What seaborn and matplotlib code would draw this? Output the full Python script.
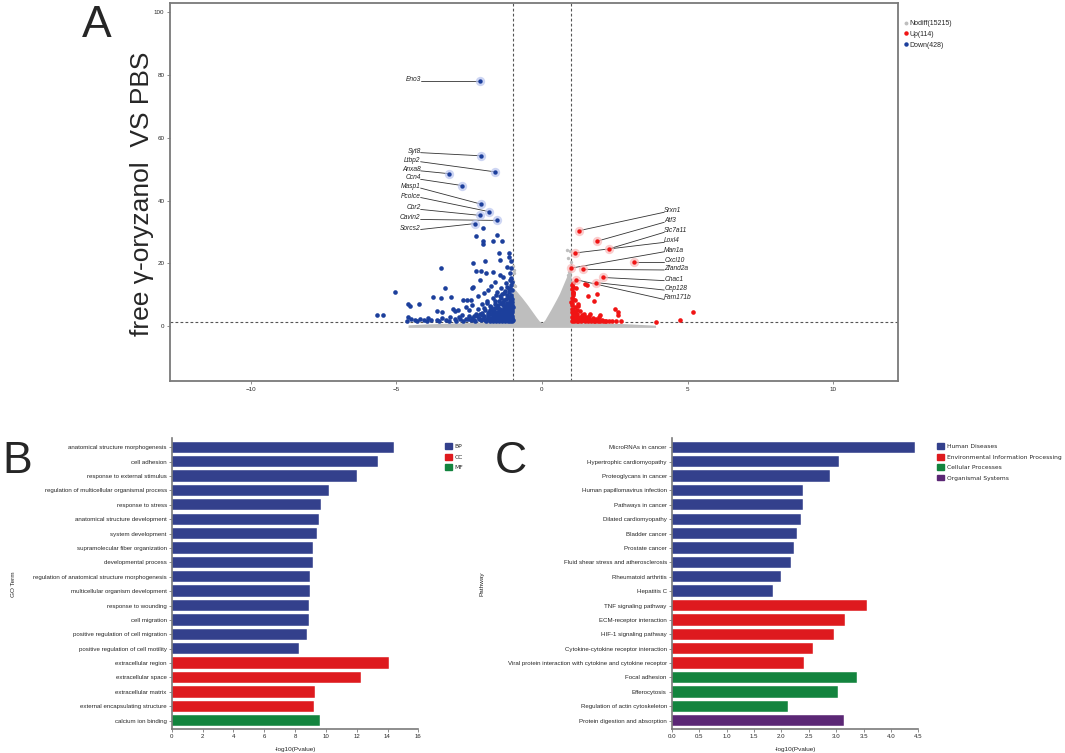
import matplotlib
matplotlib.use("Agg")
import pandas as pd
import matplotlib.pyplot as plt
import seaborn as sns
from matplotlib.patches import Patch
from matplotlib.lines import Line2D

# ---------------- panel A : volcano ----------------
# significant down-regulated genes (blue)
down_x = [-5.68, -5.47, -5.05, -4.60, -4.53, -4.23, -3.75, -3.47, -3.12, -3.48, -3.33, -3.05, -3.62, -3.45, -3.00,
          -2.02, -2.27, -1.56, -1.67, -1.36, -2.02, -2.04, -1.49, -1.15, -1.12, -2.38, -1.95, -1.44, -1.07, -2.27,
          -2.11, -1.93, -1.67, -1.44, -1.33, -1.10, -2.13, -2.41, -2.36, -1.20, -1.05, -1.25, -1.60,
          -2.70, -2.56, -2.45, -2.60, -2.20, -2.00, -1.85, -1.75, -1.55, -1.40, -1.30, -1.15, -1.08, -1.90, -1.70,
          -1.45, -1.20, -1.05, -2.40, -2.05, -1.80, -1.60, -1.35, -1.12, -2.90, -2.50, -2.20, -1.95, -1.70, -1.50,
          -1.25, -1.05,
          -4.60, -4.50, -4.35, -4.20, -4.05, -3.90, -3.80, -3.60, -3.45, -3.30, -3.15, -3.00, -2.85, -2.75, -2.60,
          -2.50, -2.35, -2.25, -2.15, -2.05, -1.95, -1.85, -1.75, -1.65, -1.55, -1.45, -1.35, -1.25, -1.15, -1.08,
          -1.02, -1.12, -1.30, -1.50, -1.70,
          -1.02, -1.04, -1.03, -1.05, -1.02, -1.06, -1.03, -1.04, -1.02, -1.05, -1.10, -1.12, -1.10, -1.13, -1.11,
          -1.14, -1.10, -1.12, -1.18, -1.20, -1.17, -1.21, -1.19, -1.22, -1.27, -1.28, -1.30, -1.26, -1.31, -1.29,
          -1.36, -1.38, -1.35, -1.40, -1.37, -1.42, -1.46, -1.48, -1.50, -1.47, -1.52, -1.57, -1.60, -1.58, -1.62,
          -1.63, -1.68, -1.72, -1.70, -1.76, -1.80, -1.84, -1.82, -1.88, -1.92, -1.98, -2.00, -2.10, -2.12, -2.30,
          -2.33, -2.45, -2.70, -2.95, -3.20, -3.55, -3.95, -4.30, -4.65]
down_y = [3.6, 3.4, 10.9, 6.9, 6.5, 6.9, 9.2, 8.9, 9.2, 18.4, 12.3, 5.6, 4.7, 4.4, 4.8,
          31.2, 28.8, 29.2, 27.2, 27.2, 27.0, 26.2, 23.4, 23.4, 22.1, 20.0, 20.8, 21.0, 20.7, 17.6,
          17.6, 17.0, 17.4, 16.2, 15.8, 16.8, 14.6, 12.0, 12.5, 19.0, 18.5, 13.8, 14.0,
          8.2, 8.4, 8.4, 6.0, 9.5, 10.5, 11.5, 12.8, 11.0, 12.0, 10.5, 11.8, 13.0, 8.0, 9.0,
          9.5, 9.8, 10.0, 6.8, 7.0, 6.5, 7.2, 7.8, 7.5, 5.0, 5.2, 5.5, 5.0, 5.3, 5.8,
          6.0, 6.3,
          2.8, 2.2, 2.0, 2.4, 1.9, 2.6, 2.0, 1.8, 2.6, 2.1, 3.0, 2.2, 2.8, 3.6, 2.3,
          3.2, 2.0, 3.8, 2.6, 4.2, 2.0, 3.4, 2.5, 4.0, 1.9, 3.0, 2.2, 3.6, 1.8, 2.8,
          4.5, 5.0, 4.6, 4.3, 3.2,
          1.6, 2.3, 3.1, 3.9, 5.2, 5.9, 6.8, 7.7, 8.6, 9.4, 1.5, 2.2, 3.3, 4.1, 5.4,
          6.6, 8.2, 10.8, 1.7, 2.6, 3.9, 4.8, 6.9, 8.8, 1.5, 2.9, 3.7, 5.3, 6.4, 8.3,
          1.6, 2.7, 4.0, 5.1, 6.9, 8.9, 1.5, 2.4, 3.5, 4.9, 6.6, 1.7, 2.8, 3.9, 5.7,
          8.1, 1.5, 2.2, 4.4, 6.1, 1.6, 2.9, 4.6, 7.3, 1.5, 3.1, 5.9, 1.8, 4.0, 1.6,
          3.3, 2.0, 1.7, 1.6, 1.5, 1.5, 1.6, 1.5, 1.6]
# the packed block just left of the |log2FC| = 1 line
down_dense_x = [-1.01, -1.03, -1.06, -1.08, -1.01, -1.07, -1.09, -1.04,
                -1.15, -1.16, -1.14, -1.17, -1.13, -1.16,
                -1.23, -1.24, -1.22, -1.25, -1.21,
                -1.33, -1.32, -1.34, -1.31, -1.33,
                -1.43, -1.41, -1.44, -1.42,
                -1.53, -1.55, -1.54, -1.56,
                -1.65, -1.66, -1.64,
                -1.78, -1.77, -1.79,
                -1.90, -1.87, -2.02, -2.05, -2.18, -2.22, -2.40, -2.55, -2.80,
                -1.09, -1.19, -1.28, -1.39, -1.49, -1.59, -1.02, -1.06, -1.11]
down_dense_y = [2.0, 2.7, 3.5, 4.4, 6.2, 7.2, 8.9, 11.6,
                1.9, 3.0, 4.6, 5.8, 7.0, 9.2,
                2.0, 3.3, 4.3, 5.7, 7.5,
                1.9, 3.2, 4.4, 5.8, 7.2,
                2.0, 3.8, 5.6, 7.4,
                1.8, 3.1, 4.4, 6.0,
                2.6, 3.5, 4.9,
                1.9, 3.8, 5.2,
                2.3, 4.1, 2.4, 3.6, 2.2, 3.2, 2.6, 2.4, 2.2,
                12.2, 12.6, 11.2, 10.3, 8.1, 9.8, 14.0, 15.2, 14.8]

# significant up-regulated genes (red)
up_x = [1.08, 1.08, 1.48, 1.54, 1.90, 1.57, 1.79, 1.05, 1.08, 1.05, 1.04, 1.12, 1.25, 2.51, 2.62,
        2.62, 5.18, 4.74, 3.93, 1.99, 1.95,
        1.02, 1.05, 1.03, 1.06, 1.04, 1.02, 1.10, 1.13, 1.15, 1.12, 1.20, 1.22, 1.25, 1.30, 1.35,
        1.38, 1.42, 1.48, 1.52, 1.58, 1.62, 1.70, 1.75, 1.82, 1.88, 2.00, 2.10, 2.20, 2.40, 2.55,
        2.70, 1.30, 1.45, 1.20, 1.65, 1.03, 1.07, 1.16,
        1.01, 1.03, 1.05, 1.02, 1.04, 1.09, 1.11, 1.08, 1.14, 1.17, 1.19, 1.23, 1.27, 1.33,
        1.40, 1.46, 1.55, 1.60, 1.68, 1.77, 1.85, 1.93, 2.05, 2.15, 2.30, 1.15, 1.22]
up_y = [13.6, 12.6, 13.3, 13.2, 10.1, 9.6, 8.1, 11.0, 9.8, 8.6, 6.7, 6.2, 6.4, 5.4, 4.6,
        3.6, 4.6, 1.9, 1.4, 3.6, 3.0,
        1.5, 2.2, 3.0, 3.8, 4.6, 5.4, 1.6, 2.6, 3.5, 4.4, 1.5, 2.0, 3.0, 2.4, 1.6,
        3.4, 2.1, 1.5, 2.8, 1.7, 2.2, 1.5, 2.6, 1.6, 2.0, 1.5, 1.6, 1.5, 1.5, 1.6,
        1.5, 4.8, 4.0, 5.2, 3.8, 7.4, 10.4, 12.0,
        7.8, 9.0, 10.4, 11.8, 13.0, 2.8, 4.0, 5.0, 1.9, 2.4, 3.8, 1.7, 2.2, 3.0,
        1.8, 2.5, 2.0, 3.1, 1.9, 1.7, 2.4, 1.6, 2.1, 1.7, 1.6, 8.4, 7.0]

# non-significant cloud: outline of the dense grey region (x, top)
nodiff_env_x = [-4.6, -4.0, -3.0, -2.0, -1.01, -1.0, -0.9, -0.8, -0.7, -0.6, -0.5, -0.4, -0.3, -0.2, -0.1,
                0.0, 0.1, 0.2, 0.3, 0.4, 0.5, 0.6, 0.7, 0.8, 0.9, 1.0, 1.01, 2.0, 3.0, 3.9]
nodiff_env_top = [0.4, 0.7, 1.0, 1.3, 1.3, 12.5, 11.4, 10.3, 9.2, 8.0, 6.8, 5.5, 4.2, 2.9, 1.7,
                  1.0, 2.0, 3.6, 5.2, 6.9, 8.6, 10.4, 12.6, 14.8, 17.0, 18.0, 1.3, 1.1, 0.7, 0.3]
# scattered grey points above the dense cloud
nodiff_x = [-0.98, -0.95, -0.99, -0.97, -0.92, -0.96, 0.96, 0.98, 0.97, 0.93, 0.99, 0.88, 0.85, 0.91]
nodiff_y = [14.5, 16.8, 19.3, 13.2, 12.8, 17.9, 18.0, 20.5, 23.8, 17.2, 19.2, 16.4, 24.2, 21.6]

down_genes = ["Eno3", "Syt8", "Ltbp2", "Anxa8", "Ccn4", "Masp1", "Pcolce", "Cbr2", "Cavin2", "Sorcs2"]
down_gene_x = [-2.13, -2.10, -1.63, -3.20, -2.74, -2.10, -1.82, -2.13, -1.55, -2.29]
down_gene_y = [78.2, 54.3, 49.2, 48.6, 44.8, 38.9, 36.5, 35.3, 33.7, 32.7]
down_label_y = [78.2, 55.3, 52.4, 49.5, 46.8, 44.0, 41.0, 37.2, 34.0, 30.8]

up_genes = ["Srxn1", "Atf3", "Slc7a11", "Loxl4", "Man1a", "Cxcl10", "Zfand2a", "Chac1", "Cep128", "Fam171b"]
up_gene_x = [1.26, 1.90, 2.29, 1.12, 1.01, 3.17, 1.40, 2.11, 1.84, 1.17]
up_gene_y = [30.4, 27.1, 24.6, 23.3, 18.5, 20.4, 18.1, 15.5, 13.9, 14.8]
up_label_y = [36.3, 33.1, 29.9, 26.7, 23.7, 20.4, 17.9, 14.5, 11.5, 8.5]

volcano_legend = ["Nodiff(15215)", "Up(114)", "Down(428)"]

# ---------------- panel B : GO ----------------
go_terms = ["anatomical structure morphogenesis", "cell adhesion", "response to external stimulus",
            "regulation of multicellular organismal process", "response to stress",
            "anatomical structure development", "system development", "supramolecular fiber organization",
            "developmental process", "regulation of anatomical structure morphogenesis",
            "multicellular organism development", "response to wounding", "cell migration",
            "positive regulation of cell migration", "positive regulation of cell motility",
            "extracellular region", "extracellular space", "extracellular matrix",
            "external encapsulating structure", "calcium ion binding"]
go_values = [14.44, 13.36, 12.04, 10.20, 9.70, 9.53, 9.42, 9.14, 9.14, 8.97,
             8.97, 8.92, 8.88, 8.79, 8.23, 14.11, 12.30, 9.29, 9.23, 9.62]
go_class = ["BP"] * 15 + ["CC"] * 4 + ["MF"]

# ---------------- panel C : KEGG ----------------
kegg_terms = ["MicroRNAs in cancer", "Hypertrophic cardiomyopathy", "Proteoglycans in cancer",
              "Human papillomavirus infection", "Pathways in cancer", "Dilated cardiomyopathy",
              "Bladder cancer", "Prostate cancer", "Fluid shear stress and atherosclerosis",
              "Rheumatoid arthritis", "Hepatitis C", "TNF signaling pathway", "ECM-receptor interaction",
              "HIF-1 signaling pathway", "Cytokine-cytokine receptor interaction",
              "Viral protein interaction with cytokine and cytokine receptor", "Focal adhesion",
              "Efferocytosis", "Regulation of actin cytoskeleton", "Protein digestion and absorption"]
kegg_values = [4.44, 3.05, 2.88, 2.40, 2.39, 2.36, 2.29, 2.23, 2.17, 2.00,
               1.85, 3.56, 3.16, 2.96, 2.58, 2.42, 3.38, 3.03, 2.12, 3.14]
kegg_class = (["Human Diseases"] * 11 + ["Environmental Information Processing"] * 5
              + ["Cellular Processes"] * 3 + ["Organismal Systems"])

BLUE, RED, GREEN, PURPLE = "#33408c", "#de1a1e", "#13843e", "#5b2775"
PT_BLUE, PT_RED, PT_GREY = "#1c3f9c", "#f01414", "#bebebe"
SPINE = "#7a7a7a"

sns.set_style("ticks")
plt.rcParams["font.family"] = ["Liberation Sans", "DejaVu Sans"]

fig = plt.figure(figsize=(10.65, 7.53), dpi=100)

# ---- A ----
axA = fig.add_axes([0.1596, 0.494, 0.6836, 0.502])
axA.fill_between(nodiff_env_x, -0.4, nodiff_env_top, color=PT_GREY, linewidth=0, zorder=1)
sns.scatterplot(x=nodiff_x, y=nodiff_y, color=PT_GREY, s=6, linewidth=0, ax=axA, zorder=2)
sns.scatterplot(x=down_x + down_dense_x, y=down_y + down_dense_y, color=PT_BLUE, s=11, linewidth=0,
                ax=axA, zorder=3)
sns.scatterplot(x=up_x, y=up_y, color=PT_RED, s=11, linewidth=0, ax=axA, zorder=3)

for gx, gy, ly, name in zip(down_gene_x, down_gene_y, down_label_y, down_genes):
    axA.plot([-4.17, gx], [ly, gy], color="#333333", lw=0.6, zorder=4)
    axA.text(-4.17, ly, name, ha="right", va="baseline", fontsize=4.8, style="italic", color="#222222")
for gx, gy, ly, name in zip(up_gene_x, up_gene_y, up_label_y, up_genes):
    axA.plot([4.2, gx], [ly, gy], color="#333333", lw=0.6, zorder=4)
    axA.text(4.2, ly, name, ha="left", va="baseline", fontsize=4.8, style="italic", color="#222222")
sns.scatterplot(x=down_gene_x, y=down_gene_y, color="#b8c4ee", s=45, alpha=0.7, linewidth=0, ax=axA, zorder=5)
sns.scatterplot(x=down_gene_x, y=down_gene_y, color=PT_BLUE, s=10, linewidth=0, ax=axA, zorder=6)
sns.scatterplot(x=up_gene_x, y=up_gene_y, color="#f8b8b8", s=45, alpha=0.7, linewidth=0, ax=axA, zorder=5)
sns.scatterplot(x=up_gene_x, y=up_gene_y, color=PT_RED, s=10, linewidth=0, ax=axA, zorder=6)

for xv in (-1, 1):
    axA.axvline(xv, color="#555555", lw=0.8, ls=(0, (2.5, 2)), zorder=0)
axA.axhline(1.3, color="#555555", lw=0.8, ls=(0, (2.5, 2)), zorder=0)

axA.set_xlim(-12.78, 12.23)
axA.set_ylim(-17.5, 103)
axA.set_xticks([-10, -5, 0, 5, 10])
axA.set_yticks([0, 20, 40, 60, 80, 100])
axA.tick_params(labelsize=4.5, length=2.5, width=0.6, color=SPINE, pad=1.5)
for sp in axA.spines.values():
    sp.set_color(SPINE)
    sp.set_linewidth(1.3)
axA.set_xlabel("")
axA.set_ylabel("free γ-oryzanol  VS PBS", fontsize=19)
axA.yaxis.set_label_coords(-0.022, 0.496)

handles = [Line2D([], [], ls="", marker="o", ms=1.8, color=PT_GREY),
           Line2D([], [], ls="", marker="o", ms=2.2, color=PT_RED),
           Line2D([], [], ls="", marker="o", ms=2.2, color=PT_BLUE)]
fig.legend(handles, volcano_legend, loc="upper left", bbox_to_anchor=(0.846, 0.978), frameon=False,
           fontsize=5, handlelength=0.5, handletextpad=0.2, labelspacing=0.55, borderpad=0)


def bar_panel(ax, terms, values, classes, palette, ylabel, xticks, xlim):
    df = pd.DataFrame({"term": terms, "value": values, "cls": classes})
    sns.barplot(data=df, x="value", y="term", hue="cls", palette=palette, dodge=False, saturation=1,
                width=0.79, legend=False, ax=ax, edgecolor="white", linewidth=0.3)
    ax.set_xlim(*xlim)
    ax.set_ylim(len(terms) - 0.4, -0.62)
    ax.set_xticks(xticks)
    ax.tick_params(labelsize=4.4, length=2.5, width=0.6, color=SPINE, pad=1)
    sns.despine(ax=ax)
    for side in ("left", "bottom"):
        ax.spines[side].set_color(SPINE)
        ax.spines[side].set_linewidth(1.2)
    ax.set_xlabel("-log10(Pvalue)", fontsize=4.6, labelpad=6)
    ax.set_ylabel(ylabel, fontsize=4.6)


# ---- B ----
go_palette = {"BP": BLUE, "CC": RED, "MF": GREEN}
axB = fig.add_axes([0.1612, 0.0315, 0.2316, 0.3864])
bar_panel(axB, go_terms, go_values, go_class, go_palette, "GO Term",
          list(range(0, 17, 2)), (0, 16))
axB.yaxis.set_label_coords(-0.63, 0.5)
fig.legend([Patch(color=c) for c in go_palette.values()], list(go_palette.keys()),
           loc="upper left", bbox_to_anchor=(0.415, 0.415), frameon=False,
           prop={"family": "DejaVu Sans", "size": 4.3}, handlelength=1.1, handleheight=1.1,
           handletextpad=0.5, labelspacing=0.75, borderpad=0)

# ---- C ----
kegg_palette = {"Human Diseases": BLUE, "Environmental Information Processing": RED,
                "Cellular Processes": GREEN, "Organismal Systems": PURPLE}
axC = fig.add_axes([0.6307, 0.0315, 0.2316, 0.3864])
bar_panel(axC, kegg_terms, kegg_values, kegg_class, kegg_palette, "Pathway",
          [0, 0.5, 1, 1.5, 2, 2.5, 3, 3.5, 4, 4.5], (0, 4.5))
axC.set_xticklabels([f"{v:.1f}" for v in [0, 0.5, 1, 1.5, 2, 2.5, 3, 3.5, 4, 4.5]])
axC.yaxis.set_label_coords(-0.76, 0.5)
fig.legend([Patch(color=c) for c in kegg_palette.values()], list(kegg_palette.keys()),
           loc="upper left", bbox_to_anchor=(0.877, 0.415), frameon=False,
           prop={"family": "DejaVu Sans", "size": 4.3}, handlelength=1.1, handleheight=1.1,
           handletextpad=0.5, labelspacing=0.75, borderpad=0)

# panel letters
fig.text(0.077, 0.951, "A", fontsize=32, va="baseline", ha="left")
fig.text(0.002, 0.372, "B", fontsize=32, va="baseline", ha="left")
fig.text(0.465, 0.372, "C", fontsize=32, va="baseline", ha="left")

fig.savefig("out.png", dpi=100)
